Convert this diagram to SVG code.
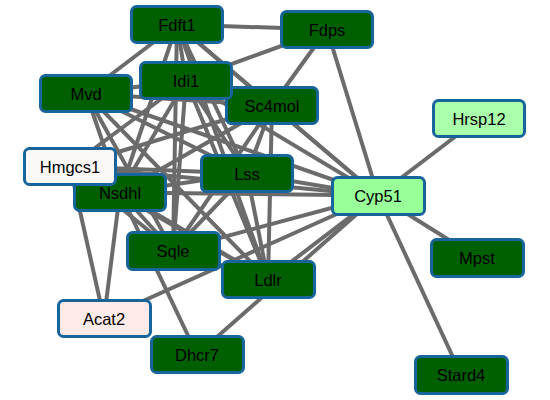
<svg xmlns="http://www.w3.org/2000/svg" width="550" height="400" viewBox="0 0 550 400">
<style>
.e{stroke:#6b6b6b;stroke-width:4;fill:none}
.n rect{stroke:#17659b;stroke-width:3}
.dg rect{fill:#005f00}
.n text{font-family:"Liberation Sans",Arial,sans-serif;font-size:16.5px;fill:#000;text-anchor:middle}
</style>
<rect width="550" height="400" fill="#fff"/>
<g id="edges">
<line class="e" x1="177" y1="24.5" x2="327" y2="29.5"/>
<line class="e" x1="186" y1="80.5" x2="327" y2="29.5"/>
<line class="e" x1="272" y1="105.5" x2="327" y2="29.5"/>
<line class="e" x1="378" y1="195.5" x2="327" y2="29.5"/>
<line class="e" x1="378" y1="195.5" x2="479" y2="118.5"/>
<line class="e" x1="378" y1="195.5" x2="477" y2="257.5"/>
<line class="e" x1="378" y1="195.5" x2="461" y2="374.5"/>
<line class="e" x1="378" y1="195.5" x2="197" y2="354.5"/>
<line class="e" x1="378" y1="195.5" x2="104" y2="318.5"/>
<line class="e" x1="120" y1="192.5" x2="197" y2="354.5"/>
<line class="e" x1="70" y1="166.5" x2="104" y2="318.5"/>
<line class="e" x1="120" y1="192.5" x2="104" y2="318.5"/>
<line class="e" x1="177" y1="24.5" x2="186" y2="80.5"/>
<line class="e" x1="177" y1="24.5" x2="86" y2="93.5"/>
<line class="e" x1="177" y1="24.5" x2="272" y2="105.5"/>
<line class="e" x1="177" y1="24.5" x2="247" y2="173.5"/>
<line class="e" x1="177" y1="24.5" x2="120" y2="192.5"/>
<line class="e" x1="177" y1="24.5" x2="173" y2="250.5"/>
<line class="e" x1="177" y1="24.5" x2="268" y2="279.5"/>
<line class="e" x1="177" y1="24.5" x2="378" y2="195.5"/>
<line class="e" x1="186" y1="80.5" x2="86" y2="93.5"/>
<line class="e" x1="186" y1="80.5" x2="272" y2="105.5"/>
<line class="e" x1="186" y1="80.5" x2="70" y2="166.5"/>
<line class="e" x1="186" y1="80.5" x2="247" y2="173.5"/>
<line class="e" x1="186" y1="80.5" x2="120" y2="192.5"/>
<line class="e" x1="186" y1="80.5" x2="173" y2="250.5"/>
<line class="e" x1="186" y1="80.5" x2="268" y2="279.5"/>
<line class="e" x1="186" y1="80.5" x2="378" y2="195.5"/>
<line class="e" x1="86" y1="93.5" x2="272" y2="105.5"/>
<line class="e" x1="86" y1="93.5" x2="247" y2="173.5"/>
<line class="e" x1="86" y1="93.5" x2="120" y2="192.5"/>
<line class="e" x1="86" y1="93.5" x2="173" y2="250.5"/>
<line class="e" x1="86" y1="93.5" x2="268" y2="279.5"/>
<line class="e" x1="86" y1="93.5" x2="378" y2="195.5"/>
<line class="e" x1="272" y1="105.5" x2="70" y2="166.5"/>
<line class="e" x1="272" y1="105.5" x2="247" y2="173.5"/>
<line class="e" x1="272" y1="105.5" x2="120" y2="192.5"/>
<line class="e" x1="272" y1="105.5" x2="173" y2="250.5"/>
<line class="e" x1="272" y1="105.5" x2="268" y2="279.5"/>
<line class="e" x1="272" y1="105.5" x2="378" y2="195.5"/>
<line class="e" x1="70" y1="166.5" x2="247" y2="173.5"/>
<line class="e" x1="70" y1="166.5" x2="120" y2="192.5"/>
<line class="e" x1="70" y1="166.5" x2="173" y2="250.5"/>
<line class="e" x1="70" y1="166.5" x2="268" y2="279.5"/>
<line class="e" x1="70" y1="166.5" x2="378" y2="195.5"/>
<line class="e" x1="247" y1="173.5" x2="120" y2="192.5"/>
<line class="e" x1="247" y1="173.5" x2="173" y2="250.5"/>
<line class="e" x1="247" y1="173.5" x2="268" y2="279.5"/>
<line class="e" x1="247" y1="173.5" x2="378" y2="195.5"/>
<line class="e" x1="120" y1="192.5" x2="173" y2="250.5"/>
<line class="e" x1="120" y1="192.5" x2="268" y2="279.5"/>
<line class="e" x1="120" y1="192.5" x2="378" y2="195.5"/>
<line class="e" x1="173" y1="250.5" x2="268" y2="279.5"/>
<line class="e" x1="173" y1="250.5" x2="378" y2="195.5"/>
<line class="e" x1="268" y1="279.5" x2="378" y2="195.5"/>
</g>
<g id="Fdft1" class="n dg"><rect x="131.5" y="6.5" width="91" height="36" rx="5"/><text x="177" y="31">Fdft1</text></g>
<g id="Fdps" class="n dg"><rect x="281.5" y="11.5" width="91" height="36" rx="5"/><text x="327" y="36">Fdps</text></g>
<g id="Sc4mol" class="n dg"><rect x="226.5" y="87.5" width="91" height="36" rx="5"/><text x="272" y="112">Sc4mol</text></g>
<g id="Idi1" class="n dg"><rect x="140.5" y="62.5" width="91" height="36" rx="5"/><text x="186" y="87">Idi1</text></g>
<g id="Mvd" class="n dg"><rect x="40.5" y="75.5" width="91" height="36" rx="5"/><text x="86" y="100">Mvd</text></g>
<g id="Hrsp12" class="n"><rect x="433.5" y="100.5" width="91" height="36" rx="5" fill="#aaffaa"/><text x="479" y="125">Hrsp12</text></g>
<g id="Nsdhl" class="n dg"><rect x="74.5" y="174.5" width="91" height="36" rx="5"/><text x="120" y="199">Nsdhl</text></g>
<g id="Hmgcs1" class="n"><rect x="24.5" y="148.5" width="91" height="36" rx="5" fill="#fdf8f8"/><text x="70" y="173">Hmgcs1</text></g>
<g id="Lss" class="n dg"><rect x="201.5" y="155.5" width="91" height="36" rx="5"/><text x="247" y="180">Lss</text></g>
<g id="Cyp51" class="n"><rect x="332.5" y="177.5" width="92" height="37" rx="5" fill="#99ff99"/><text x="378" y="202">Cyp51</text></g>
<g id="Ldlr" class="n dg"><rect x="222.5" y="261.5" width="92" height="36" rx="5"/><text x="268" y="286">Ldlr</text></g>
<g id="Sqle" class="n dg"><rect x="127.5" y="232.5" width="92" height="37" rx="5"/><text x="173" y="257">Sqle</text></g>
<g id="Mpst" class="n dg"><rect x="431.5" y="239.5" width="92" height="37" rx="5"/><text x="477" y="264">Mpst</text></g>
<g id="Dhcr7" class="n dg"><rect x="151.5" y="336.5" width="92" height="36" rx="5"/><text x="197" y="361">Dhcr7</text></g>
<g id="Acat2" class="n"><rect x="58.5" y="300.5" width="92" height="36" rx="5" fill="#ffeaea"/><text x="104" y="325">Acat2</text></g>
<g id="Stard4" class="n dg"><rect x="415.5" y="356.5" width="92" height="37" rx="5"/><text x="461" y="381">Stard4</text></g>
</svg>
